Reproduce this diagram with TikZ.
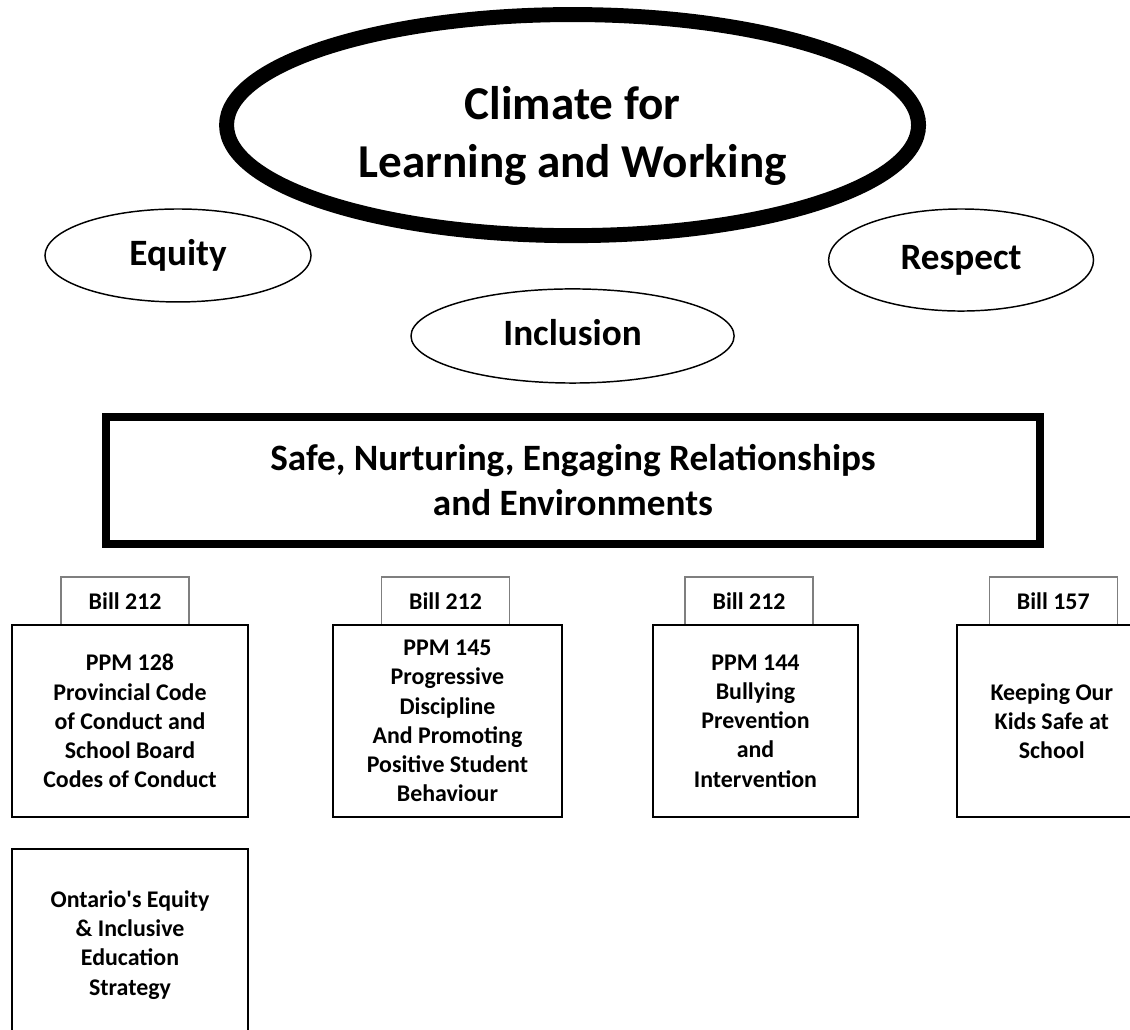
\documentclass[tikz,border=0pt]{standalone}
\usepackage{fontspec}
\setmainfont{Carlito}
\usepackage{xcolor}
\usetikzlibrary{shapes.geometric}
\definecolor{tabgray}{HTML}{7F7F7F}

\begin{document}
\begin{tikzpicture}[
  oval/.style={ellipse,draw=black,line width=1.1pt,inner sep=0pt,
    text height=18pt,text depth=3.5pt,
    font=\fontsize{28}{34}\selectfont\bfseries},
  bigoval/.style={ellipse,draw=black,line width=11.25pt,
    minimum width=18.31cm,minimum height=5.85cm},
  headtxt/.style={align=center,font=\fontsize{35.5}{43.5}\selectfont\bfseries},
  safebox/.style={rectangle,draw=black,line width=6pt,
    minimum width=24.71cm,minimum height=3.36cm,align=center,
    font=\fontsize{28}{33.75}\selectfont\bfseries},
  doc/.style={rectangle,draw=black,line width=1.5pt,fill=white,
    minimum height=5.08cm,align=center,inner sep=0pt,
    font=\fontsize{18}{22}\selectfont\bfseries},
  tab/.style={rectangle,draw=tabgray,line width=1pt,
    minimum width=3.39cm,minimum height=1.27cm,inner sep=0pt,
    font=\fontsize{18}{22}\selectfont\bfseries}
]
  \useasboundingbox (0,0) rectangle (29.9,-27.25);
  \clip (0,0) rectangle (29.9,-27.25);

  \node[bigoval] (clim)    at (15.15,-3.31) {};
  \node[headtxt] (climtxt) at (15.15,-3.6) {Climate for\\Learning and Working};

  \node[oval,minimum width=7.04cm,minimum height=2.46cm] (eq)   at (4.71,-6.76)  {Equity};
  \node[oval,minimum width=7.01cm,minimum height=2.70cm] (resp) at (25.43,-6.88) {Respect};
  \node[oval,minimum width=8.55cm,minimum height=2.49cm] (incl) at (15.15,-8.89) {Inclusion};

  \node[safebox] (safe) at (15.16,-12.71)
    {Safe, Nurturing, Engaging Relationships\\and Environments};

  \node[tab] (t128) at (3.31,-15.90)  {Bill 212};
  \node[tab] (t145) at (11.79,-15.90) {Bill 212};
  \node[tab] (t144) at (19.82,-15.90) {Bill 212};
  \node[tab] (t157) at (27.87,-15.90) {Bill 157};

  \node[doc,minimum width=6.24cm] (ppm128) at (3.44,-19.08)
    {PPM 128\\Provincial Code\\of Conduct and\\School Board\\Codes of Conduct};
  \node[doc,minimum width=6.06cm] (ppm145) at (11.84,-19.08)
    {PPM 145\\Progressive\\Discipline\\And Promoting\\Positive Student\\Behaviour};
  \node[doc,minimum width=5.42cm] (ppm144) at (19.99,-19.08)
    {PPM 144\\Bullying\\Prevention\\and\\Intervention};
  \node[doc,minimum width=5.03cm] (kids)   at (27.83,-19.08)
    {Keeping Our\\Kids Safe at\\School};
  \node[doc,minimum width=6.24cm] (strat)  at (3.44,-25.00)
    {Ontario\textquotesingle s Equity\\\& Inclusive\\Education\\Strategy};
\end{tikzpicture}
\end{document}
